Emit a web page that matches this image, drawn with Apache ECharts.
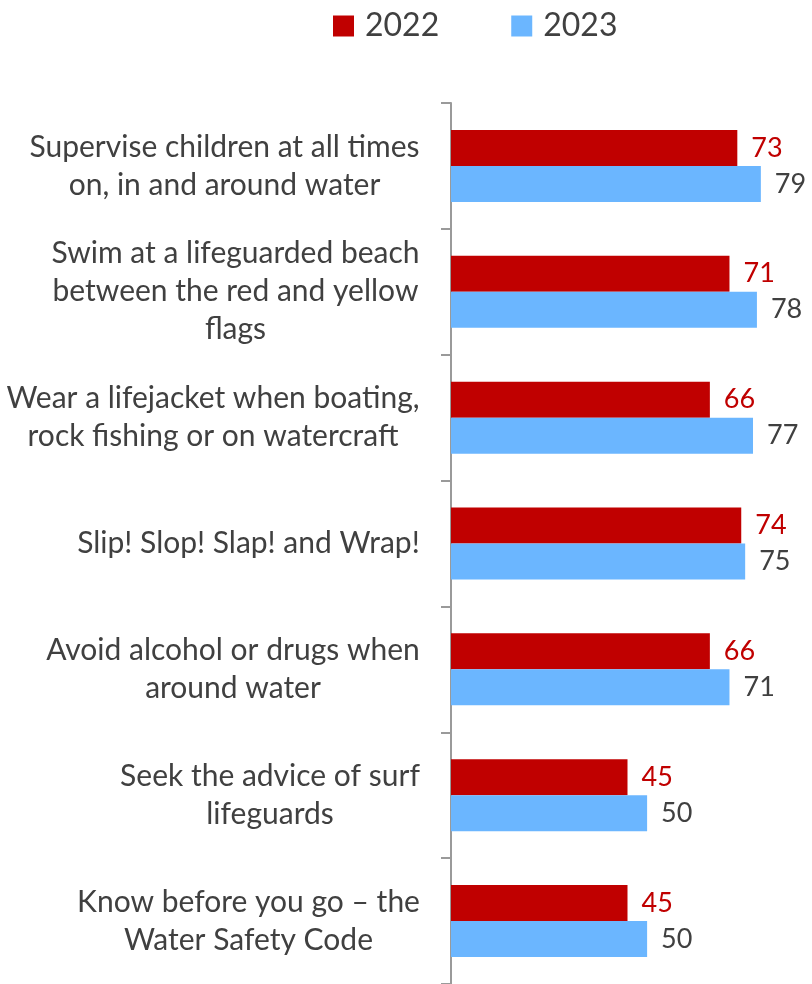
<!DOCTYPE html>
<html>
<head>
<meta charset="utf-8">
<script src="https://cdn.jsdelivr.net/npm/echarts@6/dist/echarts.min.js"></script>
<style>html,body{margin:0;padding:0;background:#fff}#c{width:812px;height:984px}</style>
</head>
<body>
<div id="c"></div>
<script>
const categories = [
  "Supervise children at all times\non, in and around water",
  "Swim at a lifeguarded beach\nbetween the red and yellow\nflags",
  "Wear a lifejacket when boating,\nrock fishing or on watercraft",
  "Slip! Slop! Slap! and Wrap!",
  "Avoid alcohol or drugs when\naround water",
  "Seek the advice of surf\nlifeguards",
  "Know before you go \u2013 the\nWater Safety Code"
];
const seriesNames = ["2022", "2023"];
const values2022 = [73, 71, 66, 74, 66, 45, 45];
const values2023 = [79, 78, 77, 75, 71, 50, 50];

const FONT = 'Lato';
const CAT_SIZE = 30;
const ctx = document.createElement('canvas').getContext('2d');
ctx.font = CAT_SIZE + 'px ' + FONT;
const rich = {};
categories.forEach((c, i) => {
  const w = Math.max(...c.split('\n').map(l => ctx.measureText(l).width));
  rich['r' + i] = { width: Math.ceil(w), align: 'center', fontSize: CAT_SIZE, fontFamily: FONT, color: '#404040', lineHeight: 38 };
});

const chart = echarts.init(document.getElementById('c'), null, { renderer: 'canvas' });
chart.setOption({
  animation: false,
  textStyle: { fontFamily: FONT },
  legend: {
    left: 328, top: 5,
    icon: 'rect', itemWidth: 21, itemHeight: 21, itemGap: 72,
    textStyle: { fontSize: 32, color: '#404040', fontFamily: FONT, padding: [0, 0, 0, 6] },
    data: seriesNames
  },
  grid: { left: 451, right: 8, top: 103, bottom: -1, containLabel: false },
  xAxis: {
    type: 'value', min: 0, max: 90, show: false
  },
  yAxis: {
    type: 'category', inverse: true, data: categories,
    axisLine: { show: true, lineStyle: { color: '#9a9a9a', width: 2 } },
    axisTick: { show: true, length: 10, lineStyle: { color: '#9a9a9a', width: 2 } },
    axisLabel: {
      margin: 31, align: 'right',
      formatter: (v, idx) => v.split('\n').map(l => '{r' + idx + '|' + l + '}').join('\n'),
      rich: rich
    },
    splitLine: { show: false }
  },
  series: [
    {
      name: seriesNames[0], type: 'bar', data: values2022,
      barWidth: 36, barGap: '0%', barCategoryGap: '43%',
      itemStyle: { color: '#C00000' },
      label: { show: true, position: 'right', distance: 14, color: '#C00000', fontSize: 27, fontFamily: FONT }
    },
    {
      name: seriesNames[1], type: 'bar', data: values2023,
      barWidth: 36, barGap: '0%',
      itemStyle: { color: '#6BB6FF' },
      label: { show: true, position: 'right', distance: 14, color: '#404040', fontSize: 27, fontFamily: FONT }
    }
  ]
});
</script>
</body>
</html>
